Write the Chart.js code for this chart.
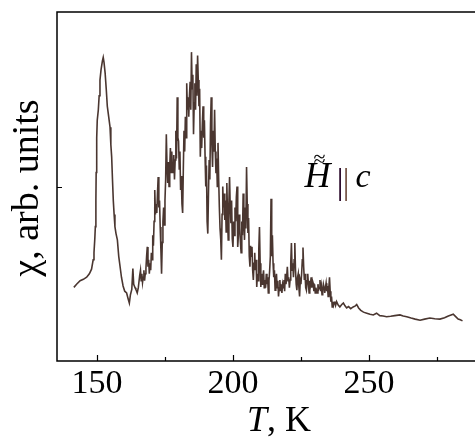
<!DOCTYPE html>
<html lang="en">
<head>
    <meta charset="UTF-8">
    <title>chi_T</title>
    <script src="https://cdn.jsdelivr.net/npm/chart.js@4.4.1/dist/chart.umd.min.js"></script>
    <style>
        html, body {margin: 0; padding: 0; background: #fff;}
        #wrap {width: 475px; height: 437px;}
    </style>
</head>
<body>
    <div id="wrap">
        <canvas id="chiChart" width="475" height="437"></canvas>
    </div>

    <script>
        // temperature, K
        const temps = [
            141.5, 142.5, 143.8, 145.0, 146.2, 147.2, 148.0, 148.6, 148.9, 149.2,
            149.4, 149.6, 149.7, 149.9, 150.1, 150.5, 150.8, 151.1, 151.5, 152.0,
            152.3, 152.6, 153.0, 153.4, 153.8, 154.3, 154.8, 155.1, 155.4, 155.7,
            156.0, 156.3, 156.6, 157.0, 157.5, 158.0, 158.5, 159.0, 159.6, 160.2,
            160.9, 161.4, 161.9, 162.3, 162.8, 163.2, 163.5, 164.0, 164.3, 164.8,
            165.2, 165.7,
            166.00, 166.25, 166.50, 166.75, 167.00, 167.25, 167.50, 167.75,
            168.00, 168.25, 168.50, 168.75, 169.00, 169.25, 169.50, 169.75,
            170.00, 170.25, 170.50, 170.75, 171.00, 171.25, 171.50, 171.75,
            172.00, 172.25, 172.50, 172.75, 173.00, 173.25, 173.50, 173.75,
            174.00, 174.25, 174.50, 174.75, 175.00, 175.25, 175.50, 175.75,
            176.00, 176.25, 176.50, 176.75, 177.00, 177.25, 177.50, 177.75,
            178.00, 178.25, 178.50, 178.75, 179.00, 179.25, 179.50, 179.75,
            180.00, 180.25, 180.50, 180.75, 181.00, 181.25, 181.50, 181.75,
            182.00, 182.25, 182.50, 182.75, 183.00, 183.25, 183.50, 183.75,
            184.00, 184.25, 184.50, 184.75, 185.00, 185.25, 185.50, 185.75,
            186.00, 186.25, 186.50, 186.75, 187.00, 187.25, 187.50, 187.75,
            188.00, 188.25, 188.50, 188.75, 189.00, 189.25, 189.50, 189.75,
            190.00, 190.25, 190.50, 190.75, 191.00, 191.25, 191.50, 191.75,
            192.00, 192.25, 192.50, 192.75, 193.00, 193.25, 193.50, 193.75,
            194.00, 194.25, 194.50, 194.75, 195.00, 195.25, 195.50, 195.75,
            196.00, 196.25, 196.50, 196.75, 197.00, 197.25, 197.50, 197.75,
            198.00, 198.25, 198.50, 198.75, 199.00, 199.25, 199.50, 199.75,
            200.00, 200.25, 200.50, 200.75, 201.00, 201.25, 201.50, 201.75,
            202.00, 202.25, 202.50, 202.75, 203.00, 203.25, 203.50, 203.75,
            204.00, 204.25, 204.50, 204.75, 205.00, 205.25, 205.50, 205.75,
            206.00, 206.25, 206.50, 206.75, 207.00, 207.25, 207.50, 207.75,
            208.00, 208.25, 208.50, 208.75, 209.00, 209.25, 209.50, 209.75,
            210.00, 210.25, 210.50, 210.75, 211.00, 211.25, 211.50, 211.75,
            212.00, 212.25, 212.50, 212.75, 213.00, 213.25, 213.50, 213.75,
            214.00, 214.25, 214.50, 214.75, 215.00, 215.25, 215.50, 215.75,
            216.00, 216.25, 216.50, 216.75, 217.00, 217.25, 217.50, 217.75,
            218.00, 218.25, 218.50, 218.75, 219.00, 219.25, 219.50, 219.75,
            220.00, 220.25, 220.50, 220.75, 221.00, 221.25, 221.50, 221.75,
            222.00, 222.25, 222.50, 222.75, 223.00, 223.25, 223.50, 223.75,
            224.00, 224.25, 224.50, 224.75, 225.00, 225.25, 225.50, 225.75,
            226.00, 226.25, 226.50, 226.75, 227.00, 227.25, 227.50, 227.75,
            228.00, 228.25, 228.50, 228.75, 229.00, 229.25, 229.50, 229.75,
            230.00, 230.25, 230.50, 230.75, 231.00, 231.25, 231.50, 231.75,
            232.00, 232.25, 232.50, 232.75, 233.00, 233.25, 233.50, 233.75,
            234.00, 234.25, 234.50, 234.75, 235.00, 235.25, 235.50, 235.75,
            236.00, 236.25, 236.50, 236.75, 237.00, 237.25, 237.50, 237.75,
            238.1, 238.7, 239.3, 240.0, 240.6, 241.2, 241.8, 242.5,
            243.3, 244.2, 245.0, 245.5, 246.2, 247.0, 248.0, 249.2, 250.4, 251.6,
            252.8, 254.0, 255.2, 256.5, 258.0, 259.5, 261.4, 262.6, 263.9, 265.5,
            267.0, 268.8, 270.5, 272.4, 274.2, 276.1, 277.8, 279.2, 280.2, 281.0,
            281.9, 282.8, 283.6, 284.4
        ];
        // susceptibility, arb. units
        const chi = [
            21.1, 22.0, 23.0, 23.4, 24.0, 25.0, 26.3, 29.0, 31.0, 35.0,
            38.5, 46.0, 54.0, 64.0, 69.0, 72.0, 76.0, 80.5, 83.5, 86.0,
            87.0, 85.5, 82.5, 78.0, 73.0, 70.0, 67.0, 62.0, 58.5, 52.0,
            46.0, 42.0, 38.5, 36.5, 34.7, 30.0, 27.0, 24.0, 21.5, 20.0,
            19.5, 18.0, 16.6, 19.0, 20.5, 26.5, 22.0, 21.0, 20.5, 19.5,
            21.0, 24.5,
            26.0, 23.0, 25.0, 22.5, 24.0, 26.0, 23.0, 25.0,
            26.5, 30.0, 32.7, 27.0, 29.0, 25.0, 28.0, 26.0,
            31.0, 29.0, 36.0, 33.0, 40.0, 49.0, 42.0, 45.0,
            42.4, 48.0, 52.7, 44.0, 46.0, 38.4, 32.0, 25.0,
            34.0, 40.0, 44.0, 39.0, 46.0, 52.0, 65.0, 56.0,
            51.0, 57.0, 50.0, 55.6, 61.0, 54.0, 60.0, 55.0,
            54.0, 59.0, 52.0, 57.6, 66.0, 58.0, 75.6, 64.0,
            63.0, 55.0, 60.0, 49.0, 53.0, 45.0, 42.4, 55.0,
            66.0, 60.0, 70.0, 64.0, 79.6, 72.0, 75.6, 70.0,
            76.0, 80.0, 72.0, 88.5, 78.0, 82.0, 65.0, 74.0,
            79.6, 72.0, 85.0, 76.0, 87.5, 80.5, 73.0, 78.0,
            58.5, 66.0, 61.0, 68.0, 73.0, 64.0, 69.0, 58.5,
            50.0, 56.0, 40.0, 36.5, 48.0, 57.6, 52.0, 68.0,
            75.6, 62.0, 55.6, 66.0, 60.0, 72.0, 60.0, 53.8,
            58.0, 50.0, 62.5, 52.0, 44.0, 38.0, 35.0, 29.0,
            42.0, 50.0, 44.0, 48.0, 40.4, 46.0, 37.0, 51.0,
            42.0, 34.7, 45.0, 52.7, 44.0, 39.5, 46.0, 35.0,
            32.7, 40.0, 36.0, 44.0, 40.0, 47.0, 50.0, 32.7,
            36.0, 42.0, 38.4, 34.0, 31.0, 40.0, 36.0, 48.0,
            40.0, 34.7, 44.0, 38.0, 55.6, 45.0, 36.7, 41.0,
            30.0, 27.0, 33.0, 30.0, 32.7, 26.0, 23.2, 28.0,
            31.0, 26.0, 29.0, 21.2, 25.0, 23.0, 32.0, 38.4,
            28.0, 21.2, 25.0, 22.0, 24.0, 26.0, 21.0, 23.2,
            21.0, 25.0, 22.0, 24.0, 19.5, 23.0, 26.0, 30.0,
            46.5, 30.0, 36.0, 28.0, 24.0, 26.0, 20.3, 23.0,
            25.0, 21.0, 23.0, 18.5, 21.0, 23.2, 20.0, 22.0,
            19.5, 22.0, 21.0, 23.2, 20.0, 25.0, 22.0, 24.0,
            27.0, 23.0, 24.0, 21.0, 23.2, 28.0, 33.8, 26.0,
            28.0, 24.0, 29.0, 33.8, 26.0, 22.0, 20.3, 24.0,
            25.0, 21.0, 18.5, 23.0, 22.0, 25.0, 29.0, 32.5,
            27.0, 23.2, 25.0, 21.0, 20.3, 23.0, 25.0, 22.0,
            19.5, 23.0, 22.0, 24.0, 21.0, 23.0, 22.3, 20.0,
            22.0, 19.5, 21.0, 20.0, 19.5, 22.0, 20.5, 21.0,
            23.2, 20.0, 21.5, 19.0, 20.3, 22.0, 21.0, 19.5,
            21.0, 22.3, 20.0, 21.5, 18.5, 21.0, 24.0, 20.0,
            17.0, 18.5, 15.5, 17.0, 16.0, 16.8, 17.0, 16.0,
            17.0, 16.0, 15.5, 16.2, 16.6, 15.8, 15.2, 15.6,
            15.0, 15.5, 15.8, 16.2, 15.2, 14.5, 14.0, 13.7, 13.4, 13.2,
            13.7, 13.0, 12.9, 12.7, 12.8, 13.0, 13.2, 12.9, 12.7, 12.3,
            12.0, 11.7, 12.0, 12.3, 12.1, 12.0, 12.4, 12.9, 13.2, 13.4,
            12.7, 12.0, 11.8, 11.5
        ];
        const xTicks = [150, 200, 250];
        const xMinorTicks = [175, 225, 275];
        const yTicks = [50];

        const serif = '"Liberation Serif", "DejaVu Serif", serif';

        // frame, inward ticks and the texts
        const framePlugin = {
            id: 'frame',
            afterDraw(chart) {
                const ctx = chart.ctx;
                const a = chart.chartArea;
                const xs = chart.scales.x;
                const ys = chart.scales.y;

                ctx.save();
                ctx.strokeStyle = '#000';
                ctx.lineWidth = 1.5;
                ctx.beginPath();
                ctx.moveTo(a.right, a.top);
                ctx.lineTo(a.left, a.top);
                ctx.lineTo(a.left, a.bottom);
                ctx.lineTo(a.right, a.bottom);
                ctx.stroke();

                ctx.lineWidth = 1.2;
                ctx.beginPath();
                xTicks.forEach(function (t) {
                    const px = Math.round(xs.getPixelForValue(t)) + 0.5;
                    ctx.moveTo(px, a.bottom);
                    ctx.lineTo(px, a.bottom - 6);
                });
                xMinorTicks.forEach(function (t) {
                    const px = Math.round(xs.getPixelForValue(t)) + 0.5;
                    ctx.moveTo(px, a.bottom);
                    ctx.lineTo(px, a.bottom - 4);
                });
                yTicks.forEach(function (v) {
                    const py = Math.round(ys.getPixelForValue(v)) + 0.5;
                    ctx.moveTo(a.left, py);
                    ctx.lineTo(a.left + 5, py);
                });
                ctx.stroke();

                ctx.fillStyle = '#000';
                ctx.textBaseline = 'alphabetic';

                // x title: T, K
                ctx.font = 'italic 36px ' + serif;
                const wT = ctx.measureText('T').width;
                ctx.font = '36px ' + serif;
                const wK = ctx.measureText(', K').width;
                const x0 = 279 - (wT + wK) / 2;
                ctx.font = 'italic 36px ' + serif;
                ctx.textAlign = 'left';
                ctx.fillText('T', x0, 431);
                ctx.font = '36px ' + serif;
                ctx.fillText(', K', x0 + wT, 431);

                // y title
                ctx.save();
                ctx.translate(38, 188);
                ctx.rotate(-Math.PI / 2);
                ctx.textAlign = 'center';
                ctx.font = '38px ' + serif;
                ctx.fillText('\u03C7, arb. units', 0, 0);
                ctx.restore();

                // annotation H || c
                const hx = xs.getPixelForValue(226.3);
                const hy = ys.getPixelForValue(50);
                ctx.textAlign = 'left';
                ctx.font = 'italic 36px ' + serif;
                ctx.fillText('H', hx, hy);
                ctx.font = '22px ' + serif;
                ctx.fillText('\u2248', hx + 9, hy - 21);
                ctx.font = '36px ' + serif;
                ctx.fillStyle = '#2e0d2e';
                ctx.fillText('|', hx + 32, hy + 6);
                ctx.fillStyle = '#7a5a4e';
                ctx.fillText('|', hx + 38, hy + 6);
                ctx.fillStyle = '#000';
                ctx.font = 'italic 34px ' + serif;
                ctx.fillText('c', hx + 51, hy);
                ctx.restore();
            }
        };

        const ctx = document.getElementById('chiChart').getContext('2d');
        const chiChart = new Chart(ctx, {
            type: 'line',
            data: {
                datasets: [{
                    data: temps.map(function (t, i) { return {x: t, y: chi[i]}; }),
                    borderColor: '#4a3630',
                    borderWidth: 1.6,
                    pointRadius: 0,
                    tension: 0,
                    fill: false
                }]
            },
            options: {
                responsive: false,
                animation: false,
                devicePixelRatio: 1,
                layout: {padding: {left: 57, top: 12, right: 0, bottom: 0}},
                plugins: {
                    legend: {display: false},
                    tooltip: {enabled: false}
                },
                scales: {
                    x: {
                        type: 'linear',
                        min: 135.3,
                        max: 289,
                        grid: {display: false, drawTicks: false},
                        border: {display: false},
                        afterBuildTicks: function (scale) {
                            scale.ticks = xTicks.map(function (v) { return {value: v}; });
                        },
                        afterFit: function (scale) { scale.height = 76; },
                        ticks: {
                            color: '#000',
                            padding: 3,
                            maxRotation: 0,
                            font: {family: serif, size: 34}
                        }
                    },
                    y: {
                        display: false,
                        min: 0,
                        max: 100
                    }
                }
            },
            plugins: [framePlugin]
        });
    </script>
</body>
</html>
